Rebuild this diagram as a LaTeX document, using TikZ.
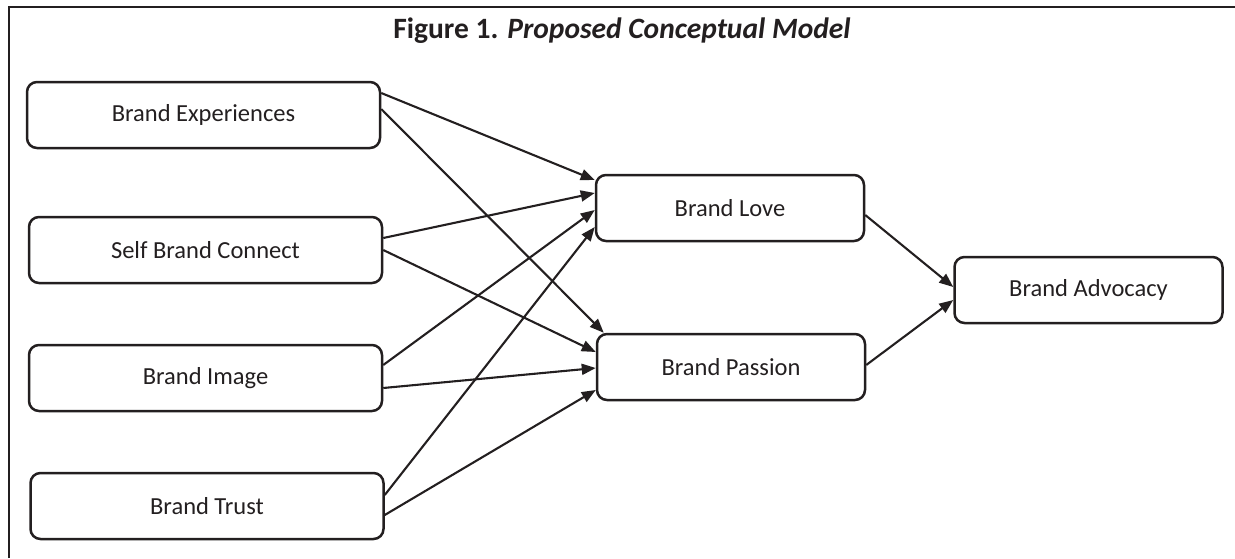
\documentclass[tikz,border=0pt]{standalone}
\usepackage{fontspec}
\setmainfont{Carlito}
\usetikzlibrary{arrows.meta}

\definecolor{ink}{HTML}{231F20}

\begin{document}
\begin{tikzpicture}[x=1pt, y=-1pt,
    box/.style={draw=ink, line width=2.5pt, rounded corners=10pt, minimum height=66pt,
        inner sep=0pt, text=ink, font=\fontsize{24.5}{29}\selectfont},
    wide/.style={box, minimum width=353pt},
    narrow/.style={box, minimum width=268pt},
    link/.style={draw=ink, line width=2.1pt, -{Triangle[length=14pt, width=11pt]}}]
    \useasboundingbox (0,0) rectangle (1235,558);

    % Frame
    \draw[ink, line width=2.8pt] (9,558) -- (9,7) -- (1235,7);

    % Title
    \node[text=ink, font=\fontsize{29.5}{35}\selectfont\bfseries] (title) at (622,31)
        {Figure 1. \textit{Proposed Conceptual Model}};

    % Antecedents
    \node[wide] (exp) at (203.5,115) {Brand Experiences};
    \node[wide] (conn) at (205.5,250) {Self Brand Connect};
    \node[wide] (image) at (205.5,378) {Brand Image};
    \node[wide] (trust) at (207,506) {Brand Trust};

    % Mediators and outcome
    \node[narrow] (love) at (730,208) {Brand Love};
    \node[narrow] (passion) at (731,367) {Brand Passion};
    \node[narrow] (advocacy) at (1088.5,290) {Brand Advocacy};

    % Paths to love and passion
    \draw[link] ([yshift=22pt]exp.east) -- ([yshift=28pt]love.west);
    \draw[link] ([yshift=6pt]exp.east) -- ([xshift=8pt]passion.north west);
    \draw[link] ([yshift=12pt]conn.east) -- ([yshift=15pt]love.west);
    \draw[link] (conn.east) -- ([yshift=15pt]passion.west);
    \draw[link] ([yshift=13pt]image.east) -- ([yshift=-2pt]love.west);
    \draw[link] ([yshift=-10pt]image.east) -- ([yshift=-1pt]passion.west);
    \draw[link] ([yshift=11pt]trust.east) -- ([yshift=-19pt]love.west);
    \draw[link] ([yshift=-9pt]trust.east) -- ([yshift=-23pt]passion.west);

    % Paths to advocacy
    \draw[link] ([yshift=-7pt]love.east) -- ([yshift=3pt]advocacy.west);
    \draw[link] ([yshift=2pt]passion.east) -- ([yshift=-10pt]advocacy.west);

\end{tikzpicture}
\end{document}
